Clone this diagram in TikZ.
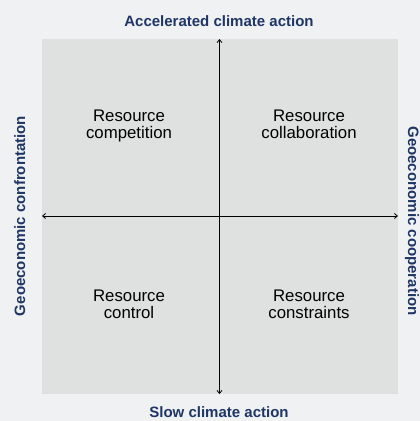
\documentclass[tikz,border=0pt]{standalone}
\usepackage{fontspec}
\setmainfont{Liberation Sans}
\usepackage{tikz}
\usetikzlibrary{arrows.meta}
\definecolor{pagebg}{HTML}{F0F1F3}
\definecolor{boxbg}{HTML}{DFE0E0}
\definecolor{axisblue}{HTML}{1E3565}
\begin{document}
\begin{tikzpicture}[x=1pt,y=-1pt,
  axislabel/.style={text=axisblue,font=\fontsize{15}{17}\selectfont\bfseries,inner sep=0pt},
  quadrant/.style={align=center,anchor=north,font=\fontsize{16.8}{17}\selectfont,inner sep=0pt},
  axisline/.style={line width=0.8pt,-{Straight Barb[length=3pt,width=5pt]}}]

\fill [pagebg] (0,0) rectangle (420,421);
\useasboundingbox (0,0) rectangle (420,421);
\fill [boxbg] (42,39) rectangle (398,394);

\coordinate (O) at (219.5,216);
\coordinate (top) at (219.5,39);
\coordinate (bottom) at (219.5,394);
\coordinate (left) at (42,216);
\coordinate (right) at (398,216);

\draw [axisline] (O) -- (top);
\draw [axisline] (O) -- (bottom);
\draw [axisline] (O) -- (left);
\draw [axisline] (O) -- (right);

\node [axislabel,anchor=base] (accel) at (219,26.5) {Accelerated climate action};
\node [axislabel,anchor=base] (slow) at (219,417.5) {Slow climate action};
\node [axislabel,anchor=base,rotate=90] (confront) at (25,216) {Geoeconomic confrontation};
\node [axislabel,anchor=base,rotate=-90] (coop) at (408,221) {Geoeconomic cooperation};

\node [quadrant] (competition) at (129,110) {Resource\\competition};
\node [quadrant] (collaboration) at (309,110) {Resource\\collaboration};
\node [quadrant] (control) at (129,290) {Resource\\control};
\node [quadrant] (constraints) at (309,290) {Resource\\constraints};

\end{tikzpicture}
\end{document}
